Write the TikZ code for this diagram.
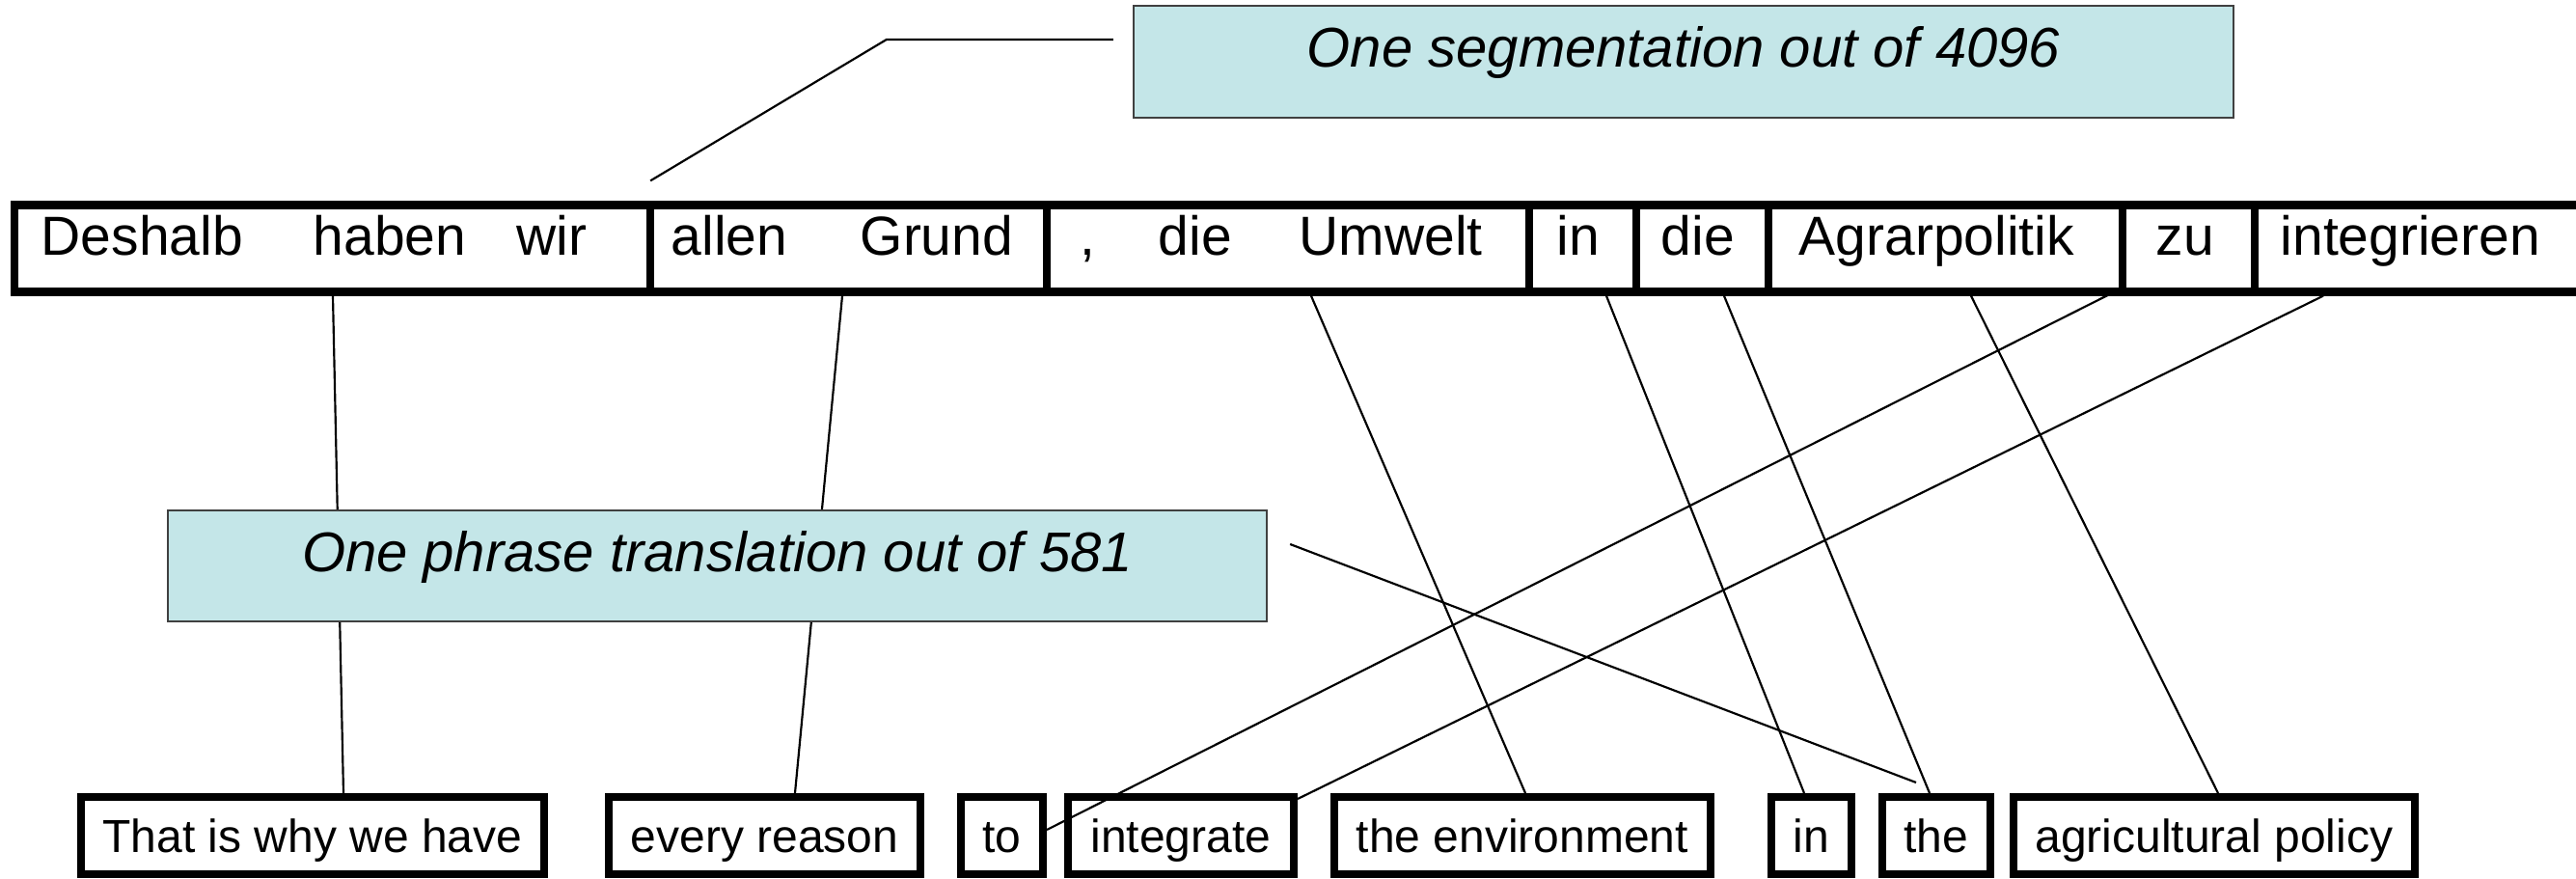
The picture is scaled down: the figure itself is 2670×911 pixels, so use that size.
\documentclass[tikz,border=0pt]{standalone}
\usepackage{fontspec}
\setmainfont{Liberation Sans}
\usetikzlibrary{calc}
\definecolor{callfill}{RGB}{196,230,232}
\tikzset{
  tbox/.style={draw=black, line width=2.5pt, minimum width=#1*0.3pt, minimum height=27pt, inner sep=0pt},
  topword/.style={anchor=base west, inner sep=0pt, font=\fontsize{17.1}{20}\selectfont},
  bbox/.style={draw=black, line width=2.4pt, minimum width=#1*0.3pt, minimum height=24pt, inner sep=0pt,
    text height=10.8pt, text depth=0pt, font=\fontsize{14.4}{17}\selectfont},
  callout/.style={draw=black!75, line width=0.7pt, fill=callfill, minimum width=#1*0.3pt, minimum height=34.65pt,
    inner sep=0pt, text depth=0pt, font=\fontsize{17.4}{20}\selectfont\itshape},
  conn/.style={draw=black, line width=0.65pt}
}
\begin{document}
\begin{tikzpicture}[x=0.3pt,y=-0.3pt]
\useasboundingbox (0,0) rectangle (2670,911);
\clip (0,0) rectangle (2670,911);
% top row (German segmentation)
\node[tbox=659] (T1) at (344.5,257.5) {};
\node[tbox=411] (T2) at (879.5,257.5) {};
\node[tbox=500] (T3) at (1335,257.5) {};
\node[tbox=111] (T4) at (1640.5,257.5) {};
\node[tbox=137] (T5) at (1764.5,257.5) {};
\node[tbox=367] (T6) at (2016.5,257.5) {};
\node[tbox=137] (T7) at (2268.5,257.5) {};
\node[tbox=383] (T8) at (2528.5,257.5) {};
\node[topword] (w1) at (42,265) {Deshalb};
\node[topword] (w2) at (324,265) {haben};
\node[topword] (w3) at (535,265) {wir};
\node[topword] (w4) at (695,265) {allen};
\node[topword] (w5) at (891,265) {Grund};
\node[topword] (w6) at (1119,265) {,};
\node[topword] (w7) at (1200,265) {die};
\node[topword] (w8) at (1346,265) {Umwelt};
\node[topword] (w9) at (1613,265) {in};
\node[topword] (w10) at (1721,265) {die};
\node[topword] (w11) at (1864,265) {Agrarpolitik};
\node[topword] (w12) at (2234,265) {zu};
\node[topword] (w13) at (2363,265) {integrieren};
% bottom row (English phrases)
\node[bbox=480] (B1) at (324,866) {That is why we have};
\node[bbox=323] (B2) at (792.5,866) {every reason};
\node[bbox=85] (B3) at (1038.5,866) {to};
\node[bbox=234] (B4) at (1224,866) {integrate};
\node[bbox=390] (B5) at (1578,866) {the environment};
\node[bbox=83] (B6) at (1877.5,866) {in};
\node[bbox=112] (B7) at (2007,866) {the};
\node[bbox=416] (B8) at (2295,866) {agricultural policy};
% alignment lines
\draw[conn] ($(T1.south)+(0.5,0)$) -- ($(B1.north)+(32,0)$);
\draw[conn] ($(T2.south)+(-6.5,0)$) -- ($(B2.north)+(31.5,0)$);
\draw[conn] ($(T3.south)+(24,0)$) -- ($(B5.north)+(3,0)$);
\draw[conn] ($(T4.south)+(24.5,0)$) -- ($(B6.north)+(-7.5,0)$);
\draw[conn] ($(T5.south)+(22.5,0)$) -- ($(B7.north)+(-7,0)$);
\draw[conn] ($(T6.south)+(26.5,0)$) -- ($(B8.north)+(4,0)$);
\draw[conn] ($(T6.south east)+(-7,-7)$) -- ($(B3.east)+(0,-6)$);
\draw[conn] ($(T8.south)+(-120.5,0)$) -- ($(B4.north east)+(0,6)$);
% callouts
\node[callout=1139, text height=3.9pt] (C2) at (743.5,586.5) {One phrase translation out of 581};
\node[callout=1140, text height=3.6pt] (C1) at (1745,64) {One segmentation out of 4096};
\draw[conn] ($(C2.east)+(23,-22.5)$) -- ($(B7.north)+(-21,-11)$);
\draw[conn] ($(C1.west)+(-20,-23)$) -- ++(-235,0) -- ($(T1.north east)+(-4,-21)$);
\end{tikzpicture}
\end{document}
